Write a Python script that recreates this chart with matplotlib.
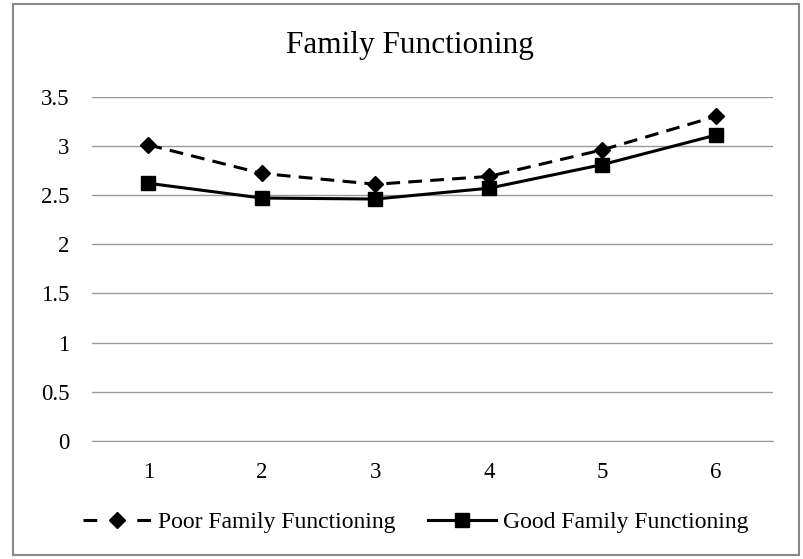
import matplotlib.pyplot as plt
from matplotlib.patches import Rectangle

plt.rcParams['font.family'] = ['Liberation Serif', 'DejaVu Serif']

waves = [1, 2, 3, 4, 5, 6]
poor = [3.01, 2.72, 2.61, 2.69, 2.96, 3.30]
good = [2.62, 2.47, 2.46, 2.57, 2.81, 3.11]
yticks = [0, 0.5, 1, 1.5, 2, 2.5, 3, 3.5]

fig = plt.figure(figsize=(8.04, 5.59), dpi=100)
# grey frame round the whole chart
fig.patches.append(Rectangle((0.016, 0.008), 0.978, 0.984, transform=fig.transFigure,
                             fill=False, edgecolor='#888888', lw=1.5))

ax = fig.add_axes([0.114, 0.211, 0.847, 0.616])
ax.plot(waves, poor, color='black', ls=(0, (4.5, 2.7)), lw=2.2,
        marker='D', ms=8, label='Poor Family Functioning')
ax.plot(waves, good, color='black', ls='-', lw=2.2,
        marker='s', ms=10, label='Good Family Functioning')

ax.set_xlim(0.5, 6.5)
ax.set_ylim(0, 3.5)
ax.set_xticks(waves)
ax.set_yticks(yticks)
ax.set_yticklabels(['0', '0.5', '1', '1.5', '2', '2.5', '3', '3.5'])
ax.tick_params(length=0, labelsize=16.5)
ax.tick_params(axis='y', pad=16)
ax.tick_params(axis='x', pad=15)
ax.grid(axis='y', color='#999999', lw=1)
ax.set_axisbelow(True)
for s in ['top', 'right', 'left']:
    ax.spines[s].set_visible(False)
ax.spines['bottom'].set_color('#999999')

fig.text(0.51, 0.905, 'Family Functioning', ha='center', va='baseline', fontsize=22.5)
leg = fig.legend(loc='center', bbox_to_anchor=(0.517, 0.066), ncol=2, frameon=False,
                 fontsize=17, handlelength=2.9, columnspacing=1.35, handletextpad=0.3)
# symmetric dashes either side of the diamond in the legend key
leg.get_lines()[0].set_linestyle((0, (4.5, 4.3, 4.5, 4.3, 4.5, 10)))

fig.savefig('out.png', dpi=100)
